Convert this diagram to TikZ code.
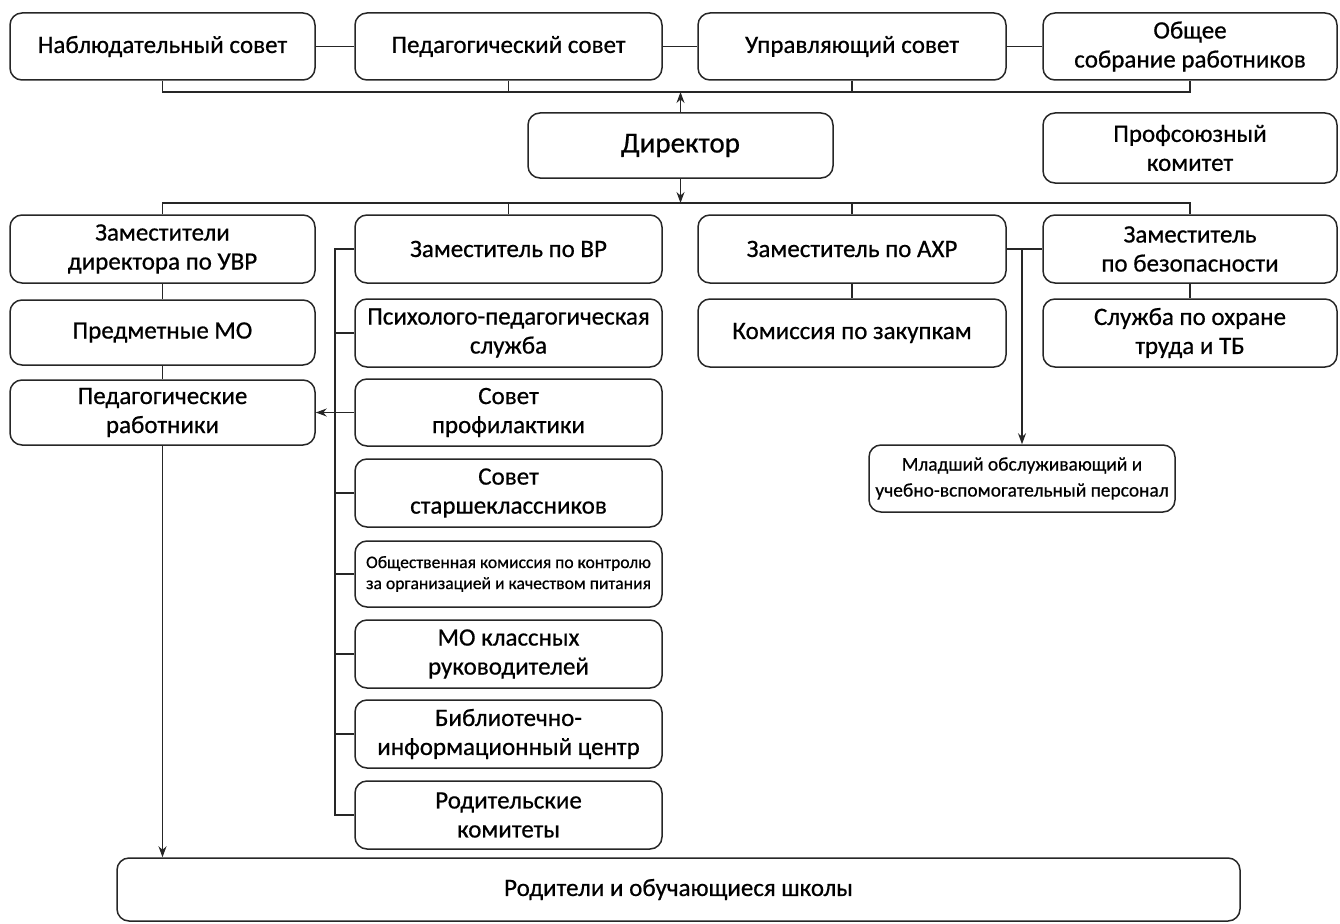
\documentclass[tikz,border=0pt]{standalone}
\usepackage{fontspec}
\setmainfont{Carlito}[FakeBold=0.6]
\usetikzlibrary{arrows.meta}
\begin{document}
\begin{tikzpicture}[x=1pt,y=-1pt,
  box/.style={draw=black!85, line width=1.5pt, rounded corners=12pt, align=center, inner sep=0pt,
    font=\fontsize{25}{29}\selectfont},
  conn/.style={draw=black!85, line width=1.4pt},
  arr/.style={conn, -{Stealth[length=11pt,width=8pt]}}]
\useasboundingbox (0,0) rectangle (1340,923);
% top row
\node[box, minimum width=305, minimum height=67] (n1) at (162.5,46.5) {Наблюдательный совет};
\node[box, minimum width=307, minimum height=67] (n2) at (508.5,46.5) {Педагогический совет};
\node[box, minimum width=308, minimum height=67] (n3) at (852,46.5) {Управляющий совет};
\node[box, minimum width=294, minimum height=67] (n4) at (1190,46.5) {Общее\\собрание работников};
% director row
\node[box, minimum width=305, minimum height=65, font=\fontsize{29}{34}\selectfont] (dir) at (680.5,145.5) {Директор};
\node[box, minimum width=294, minimum height=70] (prof) at (1190,148) {Профсоюзный\\комитет};
% deputies
\node[box, minimum width=305, minimum height=68] (u1) at (162.5,249) {Заместители\\директора по УВР};
\node[box, minimum width=307, minimum height=68] (vr) at (508.5,249) {Заместитель по ВР};
\node[box, minimum width=308, minimum height=68] (ahr) at (852,249) {Заместитель по АХР};
\node[box, minimum width=294, minimum height=68] (bez) at (1190,249) {Заместитель\\по безопасности};
% left column
\node[box, minimum width=305, minimum height=65] (mo) at (162.5,332.5) {Предметные МО};
\node[box, minimum width=305, minimum height=65] (ped) at (162.5,412.5) {Педагогические\\работники};
% middle column
\node[box, minimum width=307, minimum height=68] (psy) at (508.5,333) {Психолого-педагогическая\\служба};
\node[box, minimum width=307, minimum height=67] (spr) at (508.5,412.5) {Совет\\профилактики};
\node[box, minimum width=307, minimum height=68] (sst) at (508.5,493) {Совет\\старшеклассников};
\node[box, minimum width=307, minimum height=66, font=\fontsize{17.6}{21}\selectfont] (obk) at (508.5,574) {Общественная комиссия по контролю\\за организацией и качеством питания};
\node[box, minimum width=307, minimum height=68] (mok) at (508.5,654) {МО классных\\руководителей};
\node[box, minimum width=307, minimum height=68] (bic) at (508.5,734) {Библиотечно-\\информационный центр};
\node[box, minimum width=307, minimum height=68] (rk) at (508.5,815) {Родительские\\комитеты};
% right columns
\node[box, minimum width=308, minimum height=68] (zak) at (852,333) {Комиссия по закупкам};
\node[box, minimum width=294, minimum height=68] (ohr) at (1190,333) {Служба по охране\\труда и ТБ};
\node[box, minimum width=306, minimum height=67, font=\fontsize{19.4}{26}\selectfont] (ml) at (1022,478.5) {Младший обслуживающий и\\учебно-вспомогательный персонал};
% bottom
\node[box, minimum width=1123, minimum height=63] (par) at (678.5,889.5) {Родители и обучающиеся школы};
% coordinates
\coordinate (bt) at (0,92);
\coordinate (bb) at (0,203);
\coordinate (sp) at (335,0);
% top connectors
\draw[conn] (n1.east) -- (n2.west);
\draw[conn] (n2.east) -- (n3.west);
\draw[conn] (n3.east) -- (n4.west);
\draw[conn] (n1.south) -- (n1.south |- bt) -| (n4.south);
\draw[conn] (n2.south) -- (n2.south |- bt);
\draw[conn] (n3.south) -- (n3.south |- bt);
\draw[arr] (dir.north) -- (dir.north |- bt);
\draw[arr] (dir.south) -- (dir.south |- bb);
\draw[conn] (u1.north) -- (u1.north |- bb) -| (bez.north);
\draw[conn] (vr.north) -- (vr.north |- bb);
\draw[conn] (ahr.north) -- (ahr.north |- bb);
% left column
\draw[conn] (u1.south) -- (mo.north);
\draw[conn] (mo.south) -- (ped.north);
\draw[arr] (ped.south) -- (ped.south |- par.north);
% middle spine
\draw[conn] (vr.west) -- (vr.west -| sp) -- (rk.west -| sp) -- (rk.west);
\foreach \b in {psy,sst,obk,mok,bic} \draw[conn] (\b.west) -- (\b.west -| sp);
\draw[arr] (spr.west) -- (ped.east);
% right
\draw[conn] (ahr.south) -- (zak.north);
\draw[conn] (bez.south) -- (ohr.north);
\draw[conn] (ahr.east) -- (bez.west);
\draw[arr] (ahr.east -| ml.north) -- (ml.north);
\end{tikzpicture}
\end{document}
